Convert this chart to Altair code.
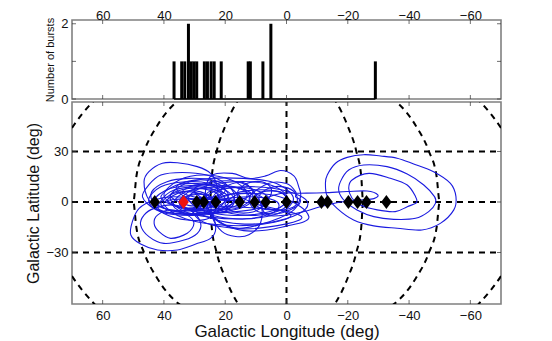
import altair as alt
import pandas as pd

FONT = "Liberation Sans"
FRAME = "#808080"
BLUE = "#1a1ae0"
TXT = "#111111"

# histogram (longitude, number of bursts)
burst_lon = [36.7, 34.2, 33.2, 32.0, 31.1, 30.2, 29.3, 26.8, 25.8, 24.6, 23.6, 21.3,
             12.5, 11.8, 7.7, 5.1, -29.0]
burst_count = [1, 1, 1, 2, 1, 1, 1, 1, 1, 1, 1, 1, 1, 1, 1, 2, 1]

# diamonds on the plane
black_lon = [43, 29.3, 27, 23.1, 15.3, 10.4, 6.8, 0, -11.4, -13.4, -20.2, -23.2, -26.1, -32.6]
red_lon = [33.6]

x_ticks = [60, 40, 20, 0, -20, -40, -60]
count_ticks = [0, 1, 2]
lat_ticks = [30, 0, -30]

# graticule (meridians read at these latitudes)
mer_lat = [62, 60, 45, 30, 15, 0, -15, -30, -45, -60, -62]
mer_25 = [15.3, 16, 20, 22.8, 24.4, 25, 24.4, 22.8, 20, 16, 15.3]
mer_50 = [34, 35.5, 42.3, 46.5, 49, 50, 49, 46.5, 42.3, 35.5, 34]
mer_75_lat = [62, 60, 52, 44, 38]
mer_75 = [62, 63, 66.8, 70, 72]

contours = [
    # right-hand group
    [(-12.7, 11.1), (-13.3, 16), (-16, 23), (-19.8, 26.5), (-25.2, 28.1), (-30.7, 27.3), (-36.1, 26), (-41.5, 22.6),
     (-48, 18), (-53.5, 11.1), (-55.3, 3.2), (-54.6, -4.7), (-50.2, -12.7), (-44.2, -16.6), (-36.1, -15.6),
     (-28.5, -14.2), (-21.9, -10.7), (-16.5, -3.8), (-13.3, 3.2)],
    [(-17.1, 6.2), (-17.6, 12.1), (-20.3, 19), (-25.2, 22), (-32.8, 21), (-39.4, 16.6), (-44.8, 10.1), (-48.3, 3.2),
     (-48.6, -0.8), (-46.4, -5.7), (-42.1, -9.7), (-35, -10.3), (-28.5, -8.7), (-23, -4.7), (-19.2, 0.2)],
    [(-20.3, 8.1), (-21.4, 13.1), (-26.9, 17), (-33.9, 14.1), (-39.4, 10.1), (-42.1, 3.2), (-42.4, -0.4),
     (-39.4, -2.8), (-35.5, -5.7), (-29.6, -4.7), (-24.1, -1.8), (-21.4, 2.2)],
    [(-4.6, 5.2), (-12.2, 5.5), (-19.8, 6.2), (-26.3, 6.5), (-29.8, 4.2), (-28.5, 2), (-24.1, 1.2), (-17.6, 0),
     (-11, -2.8), (-5.7, -5.7), (-0.2, -7.7), (6.3, -7.7), (8, 0), (2, 5)],
    [(-4.6, -2.8), (-7.3, -8.7), (-5.7, -11.7), (-0.2, -14.2), (6.3, -16.6), (14, -17), (22, -12), (26, -3),
     (20, 4), (10, 5), (2, 3)],
    # lower-left group
    [(50.8, -19.6), (50.3, -11.7), (48.1, -3.8), (43.2, 1.2), (36.7, 3.1), (30.2, 1.2), (24.8, -5.8), (23.1, -15.7),
     (24.8, -21.6), (29.6, -25), (35.6, -28.5), (42.1, -28.5), (47.6, -25)],
    [(47.6, -13.7), (46.5, -7.8), (43.2, -3.8), (36.7, -1.8), (30.7, -5.8), (28, -12.7), (29.1, -18.6), (33.4, -22.6),
     (40, -24.6), (44.9, -20.6)],
    [(43.2, -12.7), (42.1, -7.8), (37.8, -4.8), (32.4, -7.8), (30.2, -12.7), (32.4, -18.6), (37.8, -21.6), (41.6, -17.6)],
    # main cluster
    [(46.5, 12), (44.9, 18), (40.5, 23), (35.6, 23.3), (29.1, 21), (24.8, 17), (22.6, 9), (22.8, -2.8), (25.3, -9.7),
     (32.4, -10.7), (40, -6.8), (44.9, 1.2)],
    [(47, 3), (45, 10), (41, 16), (34, 17.5), (26, 16), (20, 11), (17, 4), (19, -3), (26, -7), (36, -7), (43, -4)],
    [(44, 6), (39, 12), (32, 14), (24, 13), (18, 8), (16, 2), (20, -3), (28, -5), (37, -5), (43, -1)],
    [(41, 3), (36, 10), (29, 11), (22, 9), (19, 4), (22, -2), (30, -4), (37, -2)],
    [(42, -3), (38, 6), (30, 9), (23, 7), (20, 1), (24, -5), (32, -7), (39, -6)],
    [(38, 4), (32, 8), (25, 7), (22, 3), (25, -1), (32, -2)],
    [(36, 9), (30, 13), (24, 12), (20, 7), (24, 2), (32, 2)],
    [(39, 1), (34, 6), (28, 6), (24, 1), (29, -3), (35, -3)],
    [(43, 1), (38, 8), (28, 10), (17, 9), (11, 4), (14, -3), (26, -7), (38, -5)],
    [(33, 3), (29, 5), (25, 3), (27, 0), (31, 0)],
    [(38, 3), (33, 11), (25, 14), (14, 14), (5, 12), (-1, 6), (-2, 0), (3, -7), (13, -10), (25, -9), (34, -5)],
    [(32, 2), (27, 9), (17, 12), (7, 11), (1, 6), (0, 0), (6, -6), (17, -8), (27, -5)],
    [(35, -1), (31, 7), (22, 9), (12, 8), (6, 3), (8, -3), (18, -6), (29, -6)],
    [(45, 1), (41, 9), (33, 12), (25, 11), (19, 6), (17, 0), (21, -6), (31, -8), (41, -6)],
    [(40, 4), (35, 13), (27, 16), (18, 13), (13, 6), (15, -1), (24, -5), (34, -4)],
    [(37, -2), (34, 5), (27, 8), (20, 5), (19, -1), (24, -6), (32, -7)],
    [(35, 0), (31, 4), (26, 4), (23, 0), (26, -4), (32, -4)],
    [(34, 6), (30, 10), (25, 10), (21, 6), (24, 3), (30, 3)],
    [(41, -1), (37, 5), (31, 6), (26, 3), (27, -2), (33, -5), (38, -5)],
    [(30, 8), (24, 12), (16, 12), (11, 7), (14, 2), (22, 1), (28, 3)],
    [(28, -2), (20, 2), (10, 3), (3, 0), (4, -6), (13, -10), (24, -8)],
    [(24, 0), (15, 6), (5, 7), (0, 3), (1, -4), (10, -8), (20, -6)],
    [(40, 0), (28, 2), (14, 0), (-1, -7), (4, -12), (18, -14), (33, -10)],
    [(30, -3), (16, -3), (2, -5), (-5, -9), (0, -13), (14, -16), (27, -12)],
    # elongated toward the centre
    [(24.2, 16), (17.7, 17), (12.3, 14), (6.8, 15.5), (1.9, 18.7), (-2.4, 15.5), (-4, 9), (-4.6, 3.2), (-2.4, -4.7),
     (2.5, -9.7), (9, -13.6), (15.5, -15.6), (21, -12.6), (25.3, -4.7), (26.4, 7.2)],
    [(30, -4), (24, -10), (15, -13), (5, -12), (-4, -7), (-7, -1), (-4, 4), (4, 8), (14, 9), (24, 6)],
    [(13.4, 11), (8.5, -0.7), (8.5, -12.6), (12.3, -19.5), (16.6, -20.5), (21, -17.6), (24.2, -8.7), (24, 3), (19, 10)],
    [(16, 5), (13, 11), (8, 12), (5, 8), (6, 2), (11, 0)],
    [(9, 3), (6, 8), (1, 9), (-3, 5), (-3, -2), (2, -5), (7, -3)],
    [(11, 1), (8, 6), (2, 6), (0, 1), (3, -4), (8, -4)],
    [(20, -1), (15, 5), (9, 4), (7, -1), (11, -6), (17, -6)],
    [(26, 5), (20, 9), (14, 7), (12, 1), (17, -4), (24, -3)],
    [(6, 11), (0, 11), (-3, 6), (-3, 3), (-4.6, 1), (-3, -3), (3, -7), (10, -5), (12, 3)],
]

W = 429
H_TOP = 79
H_BOT = 202
X_SCALE = alt.Scale(domain=[70, -70], nice=False, zero=False)
COUNT_SCALE = alt.Scale(domain=[0, 2.1], nice=False, zero=False)
LAT_SCALE = alt.Scale(domain=[-60.6, 59.4], nice=False, zero=False)

COMMON = dict(ticks=False, domain=False, grid=False, labelFont=FONT, labelFontSize=13, labelColor=TXT,
              titleFont=FONT, titleFontWeight="normal", titleColor=TXT)
AX_TOP_X = alt.Axis(orient="top", values=x_ticks, title=None, labelPadding=-2, labelFlush=False, **COMMON)
AX_TOP_Y = alt.Axis(values=count_ticks, format="d", title="Number of bursts", titleFontSize=11, titlePadding=5,
                    labelPadding=4, **COMMON)
AX_BOT_X = alt.Axis(values=x_ticks, title="Galactic Longitude (deg)", titleFontSize=17, titlePadding=1,
                    labelPadding=5, labelFlush=False, **COMMON)
AX_BOT_Y = alt.Axis(values=lat_ticks, format="d", title="Galactic Latitude (deg)", titleFontSize=16, titlePadding=4,
                    labelPadding=4, **COMMON)

df_hist = pd.DataFrame({"lon": burst_lon, "n": burst_count, "zero": [0] * len(burst_lon)})
df_base = pd.DataFrame({"lon": [max(burst_lon)], "lon2": [min(burst_lon)], "n": [0]})
df_xt = pd.DataFrame({"lon": x_ticks})
df_ct = pd.DataFrame({"n": count_ticks})
df_lt = pd.DataFrame({"lat": lat_ticks})
df_black = pd.DataFrame({"lon": black_lon, "lat": [0] * len(black_lon)})
df_red = pd.DataFrame({"lon": red_lon, "lat": [0] * len(red_lon)})

rows = []
for i, c in enumerate(contours):
    for j, (lo, la) in enumerate(c):
        rows.append({"id": i, "k": j, "lon": lo, "lat": la})
df_cont = pd.DataFrame(rows)

grid = []
for name, sign, lons, lats in [
    ("p25", 1, mer_25, mer_lat), ("m25", -1, mer_25, mer_lat),
    ("p50", 1, mer_50, mer_lat), ("m50", -1, mer_50, mer_lat),
    ("p75t", 1, mer_75, mer_75_lat), ("m75t", -1, mer_75, mer_75_lat),
    ("p75b", 1, mer_75, [-v for v in mer_75_lat]), ("m75b", -1, mer_75, [-v for v in mer_75_lat]),
]:
    for j, (lo, la) in enumerate(zip(lons, lats)):
        grid.append({"id": name, "k": j, "lon": sign * lo, "lat": la})
df_grid = pd.DataFrame(grid)
df_vert = pd.DataFrame({"lon": [0], "lat": [-60.6], "lat2": [59.4]})

DASH = [6, 5]
TICK = "#303030"

xt = alt.X("lon:Q", scale=X_SCALE, axis=AX_TOP_X)
yt = alt.Y("n:Q", scale=COUNT_SCALE, axis=AX_TOP_Y)
xb = alt.X("lon:Q", scale=X_SCALE, axis=AX_BOT_X)
yb = alt.Y("lat:Q", scale=LAT_SCALE, axis=AX_BOT_Y)


def tick_layers(x, y, df_y, h):
    bx = alt.Chart(df_xt).mark_rule(color=TICK, strokeWidth=0.7)
    by = alt.Chart(df_y).mark_rule(color=TICK, strokeWidth=0.7)
    return [
        bx.encode(x=x, y=alt.value(0), y2=alt.value(4)),
        bx.encode(x=x, y=alt.value(h - 4), y2=alt.value(h)),
        by.encode(y=y, x=alt.value(0), x2=alt.value(4)),
        by.encode(y=y, x=alt.value(W - 4), x2=alt.value(W)),
    ]


# top panel
bars = alt.Chart(df_hist).mark_rule(color="black", strokeWidth=3).encode(x=xt, y=yt, y2="zero:Q")
base_line = alt.Chart(df_base).mark_rule(color="black", strokeWidth=1.5).encode(x=xt, x2="lon2:Q", y=yt)
top = alt.layer(bars, base_line, *tick_layers(xt, yt, df_ct, H_TOP)).properties(width=W, height=H_TOP)

# bottom panel
parallels = alt.Chart(df_lt).mark_rule(color="black", strokeWidth=2, strokeDash=DASH).encode(
    y=yb, x=alt.value(0), x2=alt.value(W))
vertical = alt.Chart(df_vert).mark_rule(color="black", strokeWidth=2, strokeDash=DASH).encode(
    x=xb, y=yb, y2="lat2:Q")
meridians = alt.Chart(df_grid).mark_line(color="black", strokeWidth=2, strokeDash=DASH, interpolate="monotone",
                                         clip=True).encode(x=xb, y=yb, detail="id:N", order="k:Q")
rings = alt.Chart(df_cont).mark_line(color=BLUE, strokeWidth=1.1, interpolate="cardinal-closed", clip=True).encode(
    x=xb, y=yb, detail="id:N", order="k:Q")
DIAMOND = "M0,-1L0.75,0L0,1L-0.75,0Z"
blacks = alt.Chart(df_black).mark_point(shape=DIAMOND, filled=True, color="black", size=196, opacity=1,
                                        strokeWidth=0).encode(x=xb, y=yb)
reds = alt.Chart(df_red).mark_point(shape=DIAMOND, filled=True, color="#ee1111", size=196, opacity=1,
                                    strokeWidth=0).encode(x=xb, y=yb)
bottom = alt.layer(parallels, vertical, meridians, rings, blacks, reds,
                   *tick_layers(xb, yb, df_lt, H_BOT)).properties(width=W, height=H_BOT)

chart = alt.vconcat(top, bottom, spacing=3).resolve_scale(x="independent", y="independent").properties(
    padding={"left": 17, "top": 0, "right": 0, "bottom": 0}, bounds="flush",
).configure_view(stroke=FRAME, strokeWidth=1.6)

chart.save("out.html", embed_options={"renderer": "svg", "actions": False})
